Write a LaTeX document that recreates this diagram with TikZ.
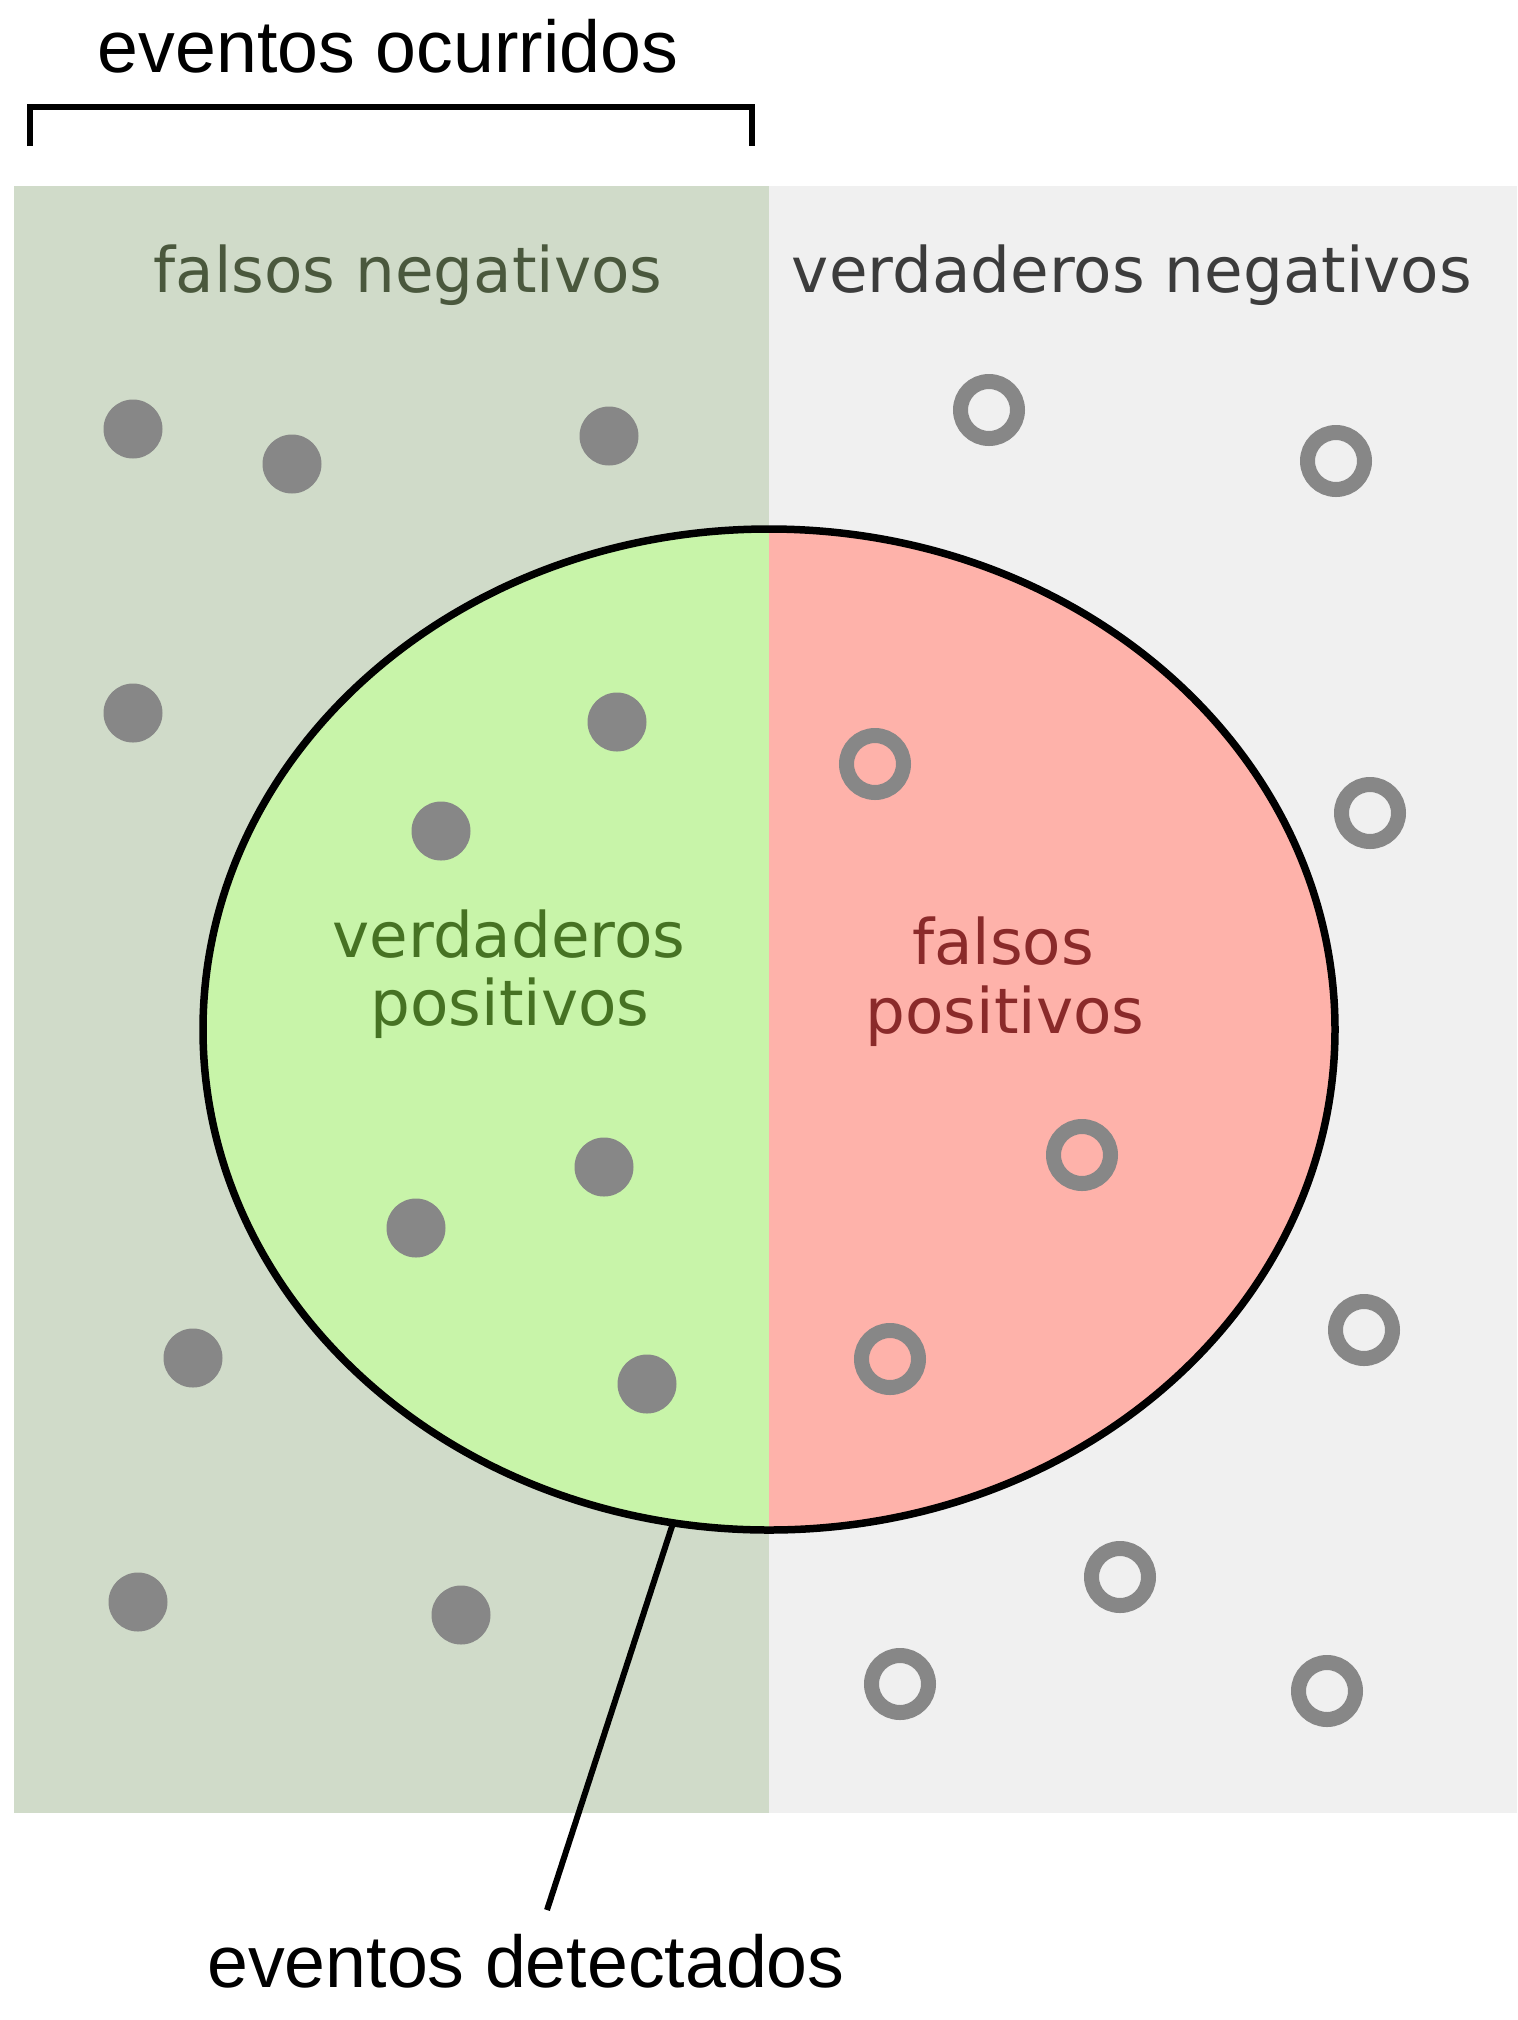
\documentclass[tikz,border=0pt]{standalone}
\usepackage{fontspec}
\setmainfont{Liberation Sans}
\newfontfamily\dejavu{DejaVu Sans}
\usetikzlibrary{positioning, calc, shapes}

\definecolor{fnback}{HTML}{D0DBC9}
\definecolor{tnback}{HTML}{F0F0F0}
\definecolor{tpfill}{HTML}{C8F4A9}
\definecolor{fpfill}{HTML}{FEB2AA}
\definecolor{dotgray}{HTML}{878787}
\definecolor{fntext}{HTML}{4A583D}
\definecolor{tntext}{HTML}{3C3C3C}
\definecolor{tptext}{HTML}{467223}
\definecolor{fptext}{HTML}{8A2A2A}

\begin{document}
\begin{tikzpicture}[x=0.5pt, y=-0.5pt, line join=miter,
		hit/.style={circle, fill=dotgray, minimum size=29.5pt, inner sep=0pt},
		miss/.style={circle, draw=dotgray, line width=7.5pt, minimum size=28.5pt, inner sep=0pt},
		tag/.style={font=\fontsize{36.75pt}{44pt}\selectfont, anchor=base},
		zone/.style={font=\dejavu\fontsize{31.4pt}{36pt}\selectfont, anchor=base}
	]
		\useasboundingbox (0,0) rectangle (1517,2020);

		%Fondos:
		\fill[fnback] (14,186) rectangle (769,1813);
		\fill[tnback] (769,186) rectangle (1517,1813);
		\begin{scope}
			\clip (769,1029.5) ellipse [x radius=283pt, y radius=250.25pt];
			\fill[tpfill] (0,0) rectangle (769,2020);
			\fill[fpfill] (769,0) rectangle (1517,2020);
		\end{scope}
		\node[ellipse, draw, line width=3.75pt, minimum width=566pt, minimum height=500.5pt, inner sep=0pt, outer sep=0pt] (det) at (769,1029.5) {};

		%Textos:
		\node[tag]							(occ)  at (388,72)    {eventos ocurridos};
		\node[tag]							(dlab) at (526,1987)  {eventos detectados};
		\node[zone, text=fntext]			(fn)   at (408,292)   {falsos negativos};
		\node[zone, text=tntext]			(tn)   at (1132,292)  {verdaderos negativos};
		\node[zone, text=tptext]			(tpA)  at (509,957)   {verdaderos};
		\node[zone, text=tptext]			(tpB)  at (510,1025)  {positivos};
		\node[zone, text=fptext]			(fpA)  at (1003,964)  {falsos};
		\node[zone, text=fptext]			(fpB)  at (1005,1033) {positivos};

		%Corchete y flecha:
		\draw[line width=3.25pt] (30,146) -- (30,107) -- (752,107) -- (752,146);
		\coordinate (tip) at (547,1910);
		\draw[line width=3pt] (det.-101.6) -- (tip);

		%Eventos ocurridos (puntos llenos):
		\foreach \x/\y [count=\i] in {133/429, 292/464, 609/436, 133/713, 617/722, 441/831,
				604/1167, 416/1228, 193/1358, 647/1384, 138/1602, 461/1615}
			\node[hit] (p\i) at (\x,\y) {};

		%Eventos no ocurridos (anillos):
		\foreach \x/\y [count=\i] in {989/410, 1336/461, 875/764, 1370/813, 1082/1155,
				890/1359, 1364/1330, 1120/1577, 900/1684, 1327/1691}
			\node[miss] (n\i) at (\x,\y) {};
	\end{tikzpicture}
\end{document}
